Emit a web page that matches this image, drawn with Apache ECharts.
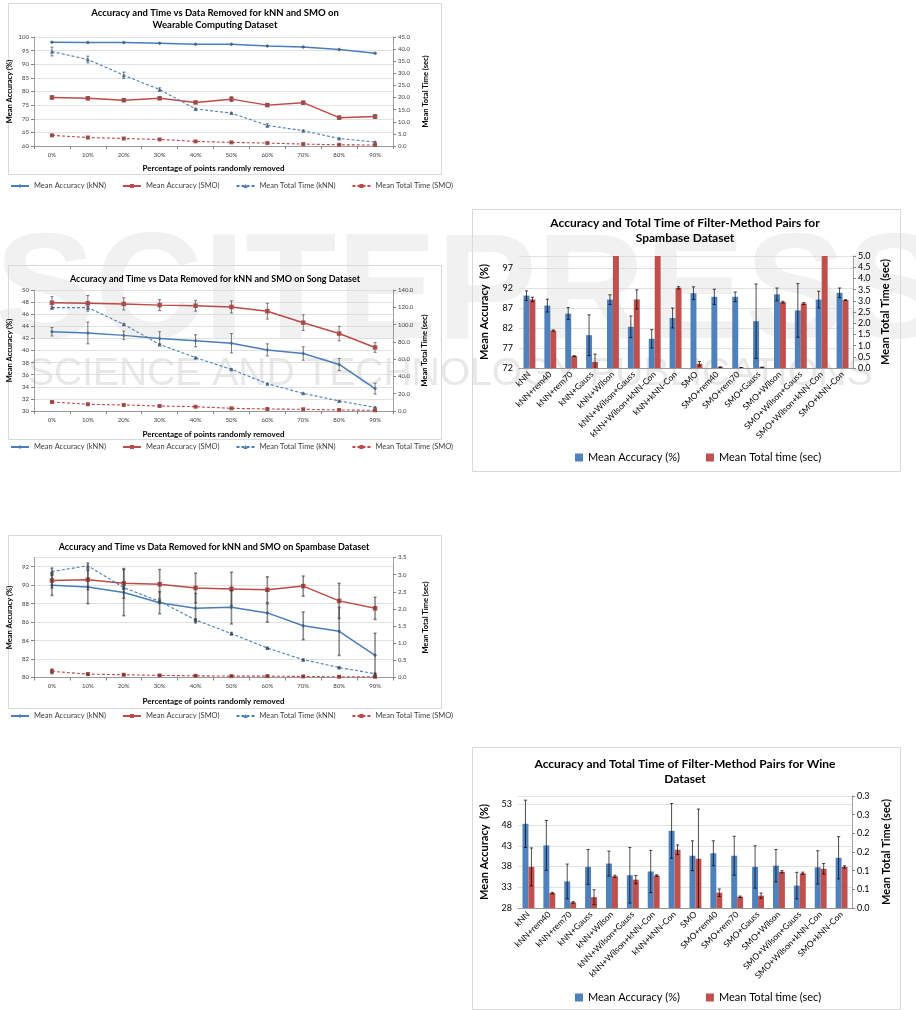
<!DOCTYPE html>
<html><head><meta charset="utf-8">
<script src="https://cdn.jsdelivr.net/npm/echarts@6/dist/echarts.min.js"></script>
<style>html,body{margin:0;padding:0;background:#fff}#c{width:916px;height:1010px}</style>
</head><body><div id="c"></div>
<script>
// ---------- DATA ----------
const pct = ['0%','10%','20%','30%','40%','50%','60%','70%','80%','90%'];
// Wearable computing dataset
const wearAccKnn = [98.1, 98.0, 98.0, 97.7, 97.3, 97.3, 96.7, 96.3, 95.4, 94.0];
const wearAccKnnErr = [0.1, 0.1, 0.1, 0.1, 0.1, 0.1, 0.1, 0.1, 0.1, 0.1];
const wearAccSmo = [77.8, 77.5, 76.8, 77.5, 76.0, 77.2, 75.0, 75.9, 70.4, 70.8];
const wearAccSmoErr = [0.6, 0.5, 0.5, 0.4, 0.3, 0.9, 0.5, 0.5, 0.6, 0.7];
const wearTimeKnn = [39.0, 35.7, 29.2, 23.3, 15.3, 13.6, 8.5, 6.3, 3.1, 1.6];
const wearTimeKnnErr = [1.8, 1.4, 1.3, 0.7, 0.3, 0.3, 0.7, 0.3, 0.2, 0.2];
const wearTimeSmo = [4.4, 3.5, 3.1, 2.7, 1.9, 1.5, 1.2, 0.8, 0.5, 0.4];
const wearTimeSmoErr = [0.2, 0.2, 0.2, 0.2, 0.1, 0.1, 0.1, 0.1, 0.1, 0.1];
// Song dataset
const songAccKnn = [43.1, 42.9, 42.5, 42.0, 41.6, 41.2, 40.1, 39.5, 37.7, 33.7];
const songAccKnnErr = [0.7, 1.8, 0.7, 1.1, 1.0, 1.6, 1.0, 1.1, 1.0, 0.9];
const songAccSmo = [47.9, 47.8, 47.7, 47.5, 47.4, 47.2, 46.5, 44.6, 42.8, 40.5];
const songAccSmoErr = [1.0, 1.3, 1.0, 0.9, 0.9, 1.0, 1.3, 1.3, 1.2, 0.8];
const songTimeKnn = [119.6, 119.6, 100.3, 77.0, 61.7, 48.2, 31.6, 20.4, 11.6, 4.2];
const songTimeKnnErr = [1.5, 1.5, 1.0, 0.8, 0.8, 0.6, 0.5, 0.4, 0.3, 0.2];
const songTimeSmo = [10.4, 7.8, 7.0, 5.8, 5.0, 3.1, 2.3, 2.0, 1.2, 0.8];
const songTimeSmoErr = [0.3, 0.3, 0.3, 0.2, 0.2, 0.2, 0.1, 0.1, 0.1, 0.1];
// Spambase dataset (lines)
const spamAccKnn = [90.0, 89.8, 89.2, 88.1, 87.5, 87.6, 87.0, 85.6, 85.0, 82.4];
const spamAccKnnErr = [1.1, 1.8, 2.5, 1.2, 1.6, 1.8, 1.0, 1.5, 2.6, 2.4];
const spamAccSmo = [90.5, 90.6, 90.2, 90.1, 89.7, 89.6, 89.5, 89.9, 88.3, 87.5];
const spamAccSmoErr = [0.8, 1.1, 1.6, 1.6, 1.6, 1.8, 1.4, 1.1, 1.9, 1.2];
const spamTimeKnn = [3.09, 3.26, 2.62, 2.22, 1.68, 1.28, 0.86, 0.52, 0.29, 0.11];
const spamTimeKnnErr = [0.1, 0.08, 0.03, 0.03, 0.03, 0.03, 0.02, 0.02, 0.02, 0.02];
const spamTimeSmo = [0.18, 0.10, 0.08, 0.06, 0.05, 0.04, 0.04, 0.03, 0.02, 0.02];
const spamTimeSmoErr = [0.07, 0.02, 0.01, 0.01, 0.01, 0.01, 0.01, 0.01, 0.01, 0.01];
// Filter-method pairs
const methods = ['kNN','kNN+rem40','kNN+rem70','kNN+Gauss','kNN+Wilson','kNN+Wilson+Gauss','kNN+Wilson+kNN-Con','kNN+kNN-Con','SMO','SMO+rem40','SMO+rem70','SMO+Gauss','SMO+Wilson','SMO+Wilson+Gauss','SMO+Wilson+kNN-Con','SMO+kNN-Con'];
const pairSpamAcc = [90.1, 87.6, 85.6, 80.2, 89.1, 82.3, 79.3, 84.5, 90.7, 89.8, 89.8, 83.7, 90.4, 86.4, 89.1, 90.8];
const pairSpamAccErr = [1.2, 1.6, 1.5, 5.1, 1.2, 2.7, 2.3, 2.5, 1.6, 1.9, 1.2, 9.3, 1.6, 6.7, 2.1, 1.2];
const pairSpamTime = [3.06, 1.67, 0.53, 0.27, 9.8, 3.06, 7.5, 3.58, 0.19, 0.04, 0.015, 0.03, 2.94, 2.88, 8.2, 3.03];
const pairSpamTimeErr = [0.1, 0.03, 0.02, 0.35, null, 0.43, null, 0.05, 0.1, 0.01, 0.005, 0.01, 0.04, 0.04, null, 0.02];
const pairWineAcc = [48.3, 43.1, 34.4, 37.9, 38.7, 35.9, 36.8, 46.6, 40.6, 41.2, 40.6, 37.9, 38.2, 33.4, 37.8, 40.1];
const pairWineAccErr = [5.7, 6.0, 4.2, 4.2, 3.0, 6.7, 5.1, 6.6, 3.6, 3.0, 4.7, 5.1, 3.9, 3.2, 4.0, 5.1];
const pairWineTime = [0.110, 0.040, 0.015, 0.029, 0.085, 0.076, 0.087, 0.156, 0.132, 0.041, 0.030, 0.033, 0.097, 0.093, 0.105, 0.110];
const pairWineTimeErr = [0.051, 0.002, 0.002, 0.02, 0.003, 0.011, 0.002, 0.013, 0.133, 0.01, 0.002, 0.007, 0.003, 0.003, 0.014, 0.003];

// ---------- STYLE ----------
const BLUE = '#4A7EBB', RED = '#BE4B48';
const BBLUE = '#4F81BD', BRED = '#C0504D';
const FONT = 'Lato, "Open Sans", sans-serif';
const GRIDC = '#D9D9D9', AXC = '#868686', TXT = '#404040';

const grids = [], xAxes = [], yAxes = [], series = [], legends = [], graphics = [];

function fmt1(v){ return (Math.round(v*10 + 1e-9)/10).toFixed(1); }

function errSeries(vals, errs, xi, yi, offset, color, width, cap){
  const data = [];
  vals.forEach((v,i)=>{ if(errs[i]!=null) data.push([i, v-errs[i], v+errs[i]]); });
  return {type:'custom', xAxisIndex:xi, yAxisIndex:yi, data, clip:true, silent:true, z:5,
    encode:{x:0, y:[1,2]},
    renderItem(params, api){
      const i = api.value(0);
      const band = api.size([1,0])[0];
      const t = api.coord([i, api.value(2)]), b = api.coord([i, api.value(1)]);
      const x = t[0] + offset*band;
      const st = {stroke:color, lineWidth:width};
      return {type:'group', children:[
        {type:'line', shape:{x1:x,y1:t[1],x2:x,y2:b[1]}, style:st},
        {type:'line', shape:{x1:x-cap,y1:t[1],x2:x+cap,y2:t[1]}, style:st},
        {type:'line', shape:{x1:x-cap,y1:b[1],x2:x+cap,y2:b[1]}, style:st}
      ]};
    }};
}

function lineChart(cfg){
  const gi = grids.length;
  grids.push({left:cfg.left, top:cfg.top, width:cfg.width, height:cfg.height});
  xAxes.push({type:'category', gridIndex:gi, data:pct, boundaryGap:true,
    name:'Percentage of points randomly removed', nameLocation:'middle', nameGap:cfg.xGap,
    nameTextStyle:{fontFamily:FONT, fontSize:8, fontWeight:'bold', color:'#000'},
    axisLine:{lineStyle:{color:AXC, width:0.8}}, axisTick:{show:true, length:3, lineStyle:{color:AXC}},
    axisLabel:{fontFamily:FONT, fontSize:6, color:TXT, margin:6}});
  const yl = yAxes.length;
  yAxes.push({type:'value', gridIndex:gi, position:'left', min:cfg.lmin, max:cfg.lmax, interval:cfg.lint,
    name:'Mean Accuracy (%)', nameLocation:'middle', nameGap:cfg.lGap, nameRotate:90,
    nameTextStyle:{fontFamily:FONT, fontSize:7.5, fontWeight:'bold', color:'#000'},
    axisLine:{show:true, lineStyle:{color:AXC, width:0.8}}, axisTick:{show:true, length:3, lineStyle:{color:AXC}},
    splitLine:{show:true, lineStyle:{color:GRIDC, width:0.8}},
    axisLabel:{fontFamily:FONT, fontSize:6, color:TXT, margin:5, showMaxLabel:cfg.showMax!==false}});
  const yr = yAxes.length;
  yAxes.push({type:'value', gridIndex:gi, position:'right', min:cfg.rmin, max:cfg.rmax, interval:cfg.rint,
    name:'Mean Total Time (sec)', nameLocation:'middle', nameGap:cfg.rGap, nameRotate:90,
    nameTextStyle:{fontFamily:FONT, fontSize:7.5, fontWeight:'bold', color:'#000'},
    axisLine:{show:true, lineStyle:{color:AXC, width:0.8}}, axisTick:{show:true, length:3, lineStyle:{color:AXC}},
    splitLine:{show:false},
    axisLabel:{fontFamily:FONT, fontSize:6, color:TXT, margin:5, formatter:fmt1}});
  const mk = (name, data, yi, color, dashed, symbol, size) => ({type:'line', name, data, xAxisIndex:gi, yAxisIndex:yi,
    symbol, symbolSize:size, showSymbol:true, lineStyle:{color, width:dashed?1.1:1.5, type:dashed?[3,2]:'solid'},
    itemStyle:{color}, z:3});
  series.push(mk('Mean Accuracy (kNN)', cfg.accKnn, yl, BLUE, false, 'diamond', 4));
  series.push(mk('Mean Accuracy (SMO)', cfg.accSmo, yl, RED, false, 'rect', 4.5));
  series.push(mk('Mean Total Time (kNN)', cfg.timeKnn, yr, BLUE, true, 'triangle', 4));
  series.push(mk('Mean Total Time (SMO)', cfg.timeSmo, yr, RED, true, 'rect', 4));
  const ec = cfg.errColor || '#595959', ew = cfg.errWidth || 0.8;
  series.push(errSeries(cfg.accKnn, cfg.accKnnErr, gi, yl, 0, ec, ew, 1.5));
  series.push(errSeries(cfg.accSmo, cfg.accSmoErr, gi, yl, 0, ec, ew, 1.5));
  series.push(errSeries(cfg.timeKnn, cfg.timeKnnErr, gi, yr, 0, ec, ew, 1.5));
  series.push(errSeries(cfg.timeSmo, cfg.timeSmoErr, gi, yr, 0, ec, ew, 1.5));
  legends.push({left:cfg.legLeft, top:cfg.legTop, itemWidth:18, itemHeight:5, itemGap:16, padding:0,
    textStyle:{fontFamily:FONT, fontSize:7.5, color:TXT},
    data:['Mean Accuracy (kNN)','Mean Accuracy (SMO)','Mean Total Time (kNN)','Mean Total Time (SMO)']});
}

function barChart(cfg){
  const gi = grids.length;
  grids.push({left:cfg.left, top:cfg.top, width:cfg.width, height:cfg.height});
  xAxes.push({type:'category', gridIndex:gi, data:methods, boundaryGap:true,
    axisLine:{lineStyle:{color:AXC, width:0.8}}, axisTick:{show:false},
    axisLabel:{fontFamily:FONT, fontSize:8.5, color:'#000', rotate:45, margin:5, interval:0}});
  const yl = yAxes.length;
  yAxes.push({type:'value', gridIndex:gi, position:'left', min:cfg.lmin, max:cfg.lmax, interval:5,
    name:'Mean Accuracy  (%)', nameLocation:'middle', nameGap:cfg.lGap, nameRotate:90,
    nameTextStyle:{fontFamily:FONT, fontSize:11, fontWeight:'bold', color:'#000'},
    axisLine:{show:false}, axisTick:{show:false},
    splitLine:{show:true, lineStyle:{color:GRIDC, width:0.8}},
    axisLabel:{fontFamily:FONT, fontSize:9, color:'#000', margin:6, showMaxLabel:false}});
  const yr = yAxes.length;
  yAxes.push({type:'value', gridIndex:gi, position:'right', min:0, max:cfg.rmax, interval:cfg.rint,
    name:'Mean Total Time (sec)', nameLocation:'middle', nameGap:cfg.rGap, nameRotate:90,
    nameTextStyle:{fontFamily:FONT, fontSize:11, fontWeight:'bold', color:'#000'},
    axisLine:{show:true, lineStyle:{color:AXC, width:0.8}}, axisTick:{show:true, length:3, lineStyle:{color:AXC}},
    splitLine:{show:false},
    axisLabel:{fontFamily:FONT, fontSize:9, color:'#000', margin:5, formatter:fmt1}});
  series.push({type:'bar', name:'Mean Accuracy (%)', data:cfg.acc, xAxisIndex:gi, yAxisIndex:yl,
    barGap:'0%', barCategoryGap:'43%', clip:true, itemStyle:{color:BBLUE}, z:2});
  series.push({type:'bar', name:'Mean Total time (sec)', data:cfg.time, xAxisIndex:gi, yAxisIndex:yr,
    barGap:'0%', barCategoryGap:'43%', clip:true, itemStyle:{color:BRED}, z:2});
  series.push(errSeries(cfg.acc, cfg.accErr, gi, yl, -0.1425, '#000', 0.7, 1.6));
  series.push(errSeries(cfg.time, cfg.timeErr, gi, yr, 0.1425, '#000', 0.7, 1.6));
  legends.push({left:cfg.legLeft, top:cfg.legTop, itemWidth:8, itemHeight:8, itemGap:26, padding:0,
    icon:'rect', textStyle:{fontFamily:FONT, fontSize:11, color:'#000'},
    data:['Mean Accuracy (%)','Mean Total time (sec)']});
}

lineChart({left:34, top:37, width:359, height:109, xGap:18, lGap:20, rGap:29,
  lmin:60, lmax:100, lint:5, rmin:0, rmax:45, rint:5,
  accKnn:wearAccKnn, accKnnErr:wearAccKnnErr, accSmo:wearAccSmo, accSmoErr:wearAccSmoErr,
  timeKnn:wearTimeKnn, timeKnnErr:wearTimeKnnErr, timeSmo:wearTimeSmo, timeSmoErr:wearTimeSmoErr,
  legLeft:10, legTop:182});
lineChart({left:34, top:290, width:359, height:121, xGap:19, lGap:20, rGap:28,
  lmin:30, lmax:50, lint:2, rmin:0, rmax:140, rint:20,
  accKnn:songAccKnn, accKnnErr:songAccKnnErr, accSmo:songAccSmo, accSmoErr:songAccSmoErr,
  timeKnn:songTimeKnn, timeKnnErr:songTimeKnnErr, timeSmo:songTimeSmo, timeSmoErr:songTimeSmoErr,
  legLeft:10, legTop:443});
lineChart({left:34, top:557.5, width:359, height:120, xGap:20, lGap:20, rGap:29,
  lmin:80, lmax:93, lint:2, rmin:0, rmax:3.5, rint:0.5, showMax:false,
  errColor:'rgba(60,60,60,0.6)', errWidth:1.6,
  accKnn:spamAccKnn, accKnnErr:spamAccKnnErr, accSmo:spamAccSmo, accSmoErr:spamAccSmoErr,
  timeKnn:spamTimeKnn, timeKnnErr:spamTimeKnnErr, timeSmo:spamTimeSmo, timeSmoErr:spamTimeSmoErr,
  legLeft:10, legTop:712});
barChart({left:519, top:256, width:334, height:112, lmin:72, lmax:100, rmax:5, rint:0.5, lGap:29, rGap:27,
  acc:pairSpamAcc, accErr:pairSpamAccErr, time:pairSpamTime, timeErr:pairSpamTimeErr,
  legLeft:575, legTop:452});
barChart({left:518, top:796, width:334, height:112, lmin:28, lmax:55, rmax:0.3, rint:0.05, lGap:28, rGap:29,
  acc:pairWineAcc, accErr:pairWineAccErr, time:pairWineTime, timeErr:pairWineTimeErr,
  legLeft:575, legTop:992});

// ---------- GRAPHICS (watermark, frames, titles) ----------
graphics.push({type:'text', z:-10, left:-5, top:222, style:{text:'SCITEPRESS', fill:'#F1F1F1',
  font:'bold 150px "Liberation Sans", sans-serif'}});
graphics.push({type:'text', z:-9, left:28, top:355, style:{text:'SCIENCE AND TECHNOLOGY PUBLICATIONS', fill:'#E8E8E8',
  font:'39px "Liberation Sans", sans-serif'}});
const frames = [[8,3,433,171],[8,265,433,174],[8,535,433,173],[472,209,428,262],[472,747,428,262]];
frames.forEach(f=>graphics.push({type:'rect', z:-5, shape:{x:f[0]+0.5,y:f[1]+0.5,width:f[2],height:f[3]},
  style:{fill:'none', stroke:'#D9D9D9', lineWidth:1}}));
function title(t, x, y, size){
  graphics.push({type:'text', z:10, x, y, style:{text:t, fill:'#000', font:'bold '+size+'px '+FONT, textAlign:'center', textVerticalAlign:'middle'}});
}
title('Accuracy and Time vs Data Removed for kNN and SMO on', 215, 13, 9.5);
title('Wearable Computing Dataset', 215, 24.5, 9.5);
title('Accuracy and Time vs Data Removed for kNN and SMO on Song Dataset', 215, 279, 9);
title('Accuracy and Time vs Data Removed for kNN and SMO on Spambase Dataset', 214, 547, 9);
title('Accuracy and Total Time of Filter-Method Pairs for', 685, 223, 12);
title('Spambase Dataset', 685, 238, 12);
title('Accuracy and Total Time of Filter-Method Pairs for Wine', 685, 764, 12);
title('Dataset', 685, 779, 12);

const chart = echarts.init(document.getElementById('c'), null, {renderer:'canvas'});
chart.setOption({animation:false, backgroundColor:'#fff', grid:grids, xAxis:xAxes, yAxis:yAxes,
  series, legend:legends, graphic:graphics});
</script></body></html>
